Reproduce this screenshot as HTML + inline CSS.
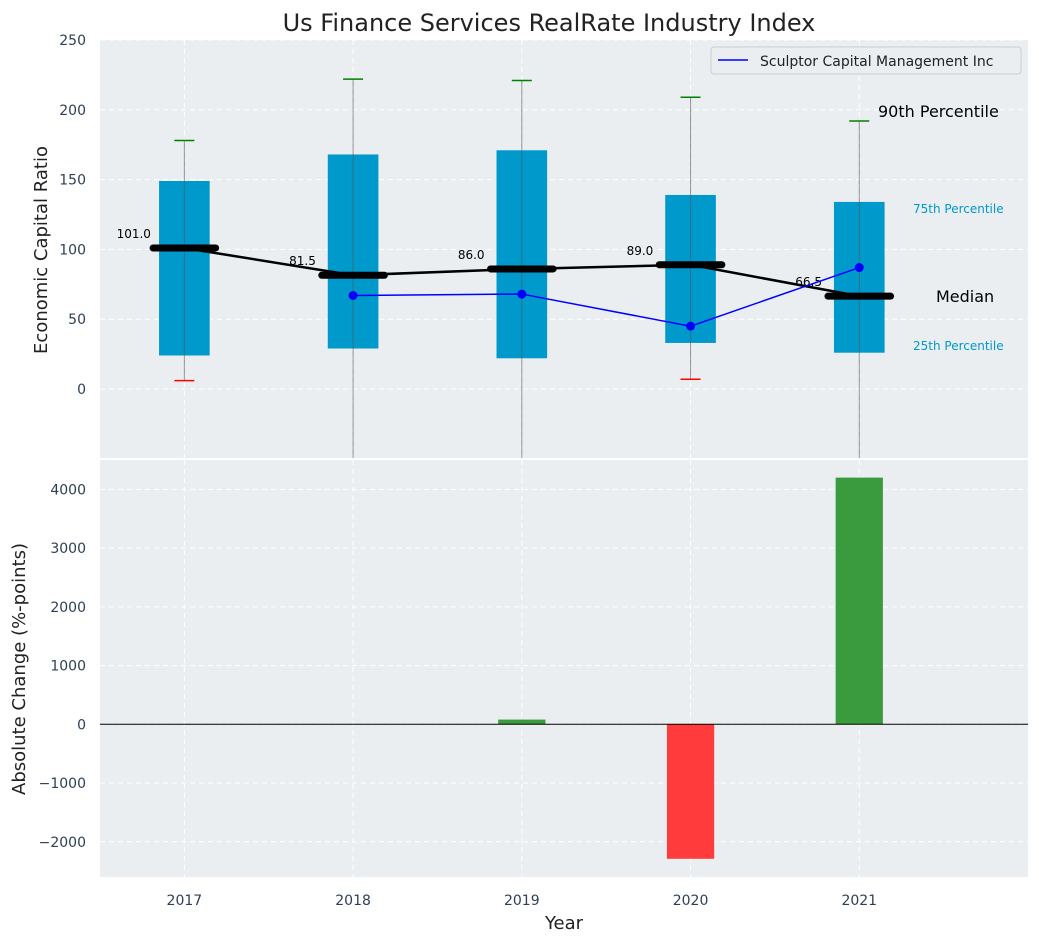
<!DOCTYPE html>
<html><head><meta charset="utf-8"><style>
body{margin:0;background:#fff;font-family:"Liberation Sans","DejaVu Sans",sans-serif}
svg text{font-family:"DejaVu Sans","Liberation Sans",sans-serif}
</style></head><body>
<svg id="c" width="1039" height="942" xmlns="http://www.w3.org/2000/svg"></svg>
<script>
const years=[2017,2018,2019,2020,2021];
const q1=[24,29,22,33,26];
const q3=[149,168,171,139,134];
const whiskTop=[178,222,221,209,192];
const whiskBot=[6,-80,-80,7,-80];
const medians=[101,81.5,86,89,66.5];
const companyYears=[2018,2019,2020,2021];
const companyVals=[67,68,45,87];
const changeYears=[2019,2020,2021];
const changeVals=[80,-2290,4200];
const topTicks=[0,50,100,150,200,250];
const botTicks=[-2000,-1000,0,1000,2000,3000,4000];
const botTickLabels=["\u22122000","\u22121000","0","1000","2000","3000","4000"];

const NS="http://www.w3.org/2000/svg";
const svg=document.getElementById('c');
function el(t,a,p){const e=document.createElementNS(NS,t);for(const k in a)e.setAttribute(k,a[k]);(p||svg).appendChild(e);return e;}
const L=100,R=1028;
const x=v=>L+(v-2016.5)/(2022-2016.5)*(R-L);
const yT=v=>40+(250-v)/300*(458.8-40);
const yB=v=>460+(4500-v)/7100*(877-460);

// backgrounds
let e=el('rect',{x:L,y:40,width:R-L,height:418,fill:'#eaeef0'});

e=el('rect',{x:L,y:460,width:R-L,height:417,fill:'#eaeef0'});


// title
e=el('text',{x:549,y:31,'text-anchor':'middle','font-size':24,fill:'#222'});e.textContent='Us Finance Services RealRate Industry Index';


// grids & ticks
topTicks.forEach(t=>{const yy=yT(t);
 let g=el('line',{x1:L,x2:R,y1:yy,y2:yy,stroke:'#fff','stroke-dasharray':'5,4','stroke-width':1});
 
 let tx=el('text',{x:86,y:yy+5,'text-anchor':'end','font-size':14,fill:'#2e3f55'});tx.textContent=t;
 });
botTicks.forEach((t,i)=>{const yy=yB(t);
 let g=el('line',{x1:L,x2:R,y1:yy,y2:yy,stroke:'#fff','stroke-dasharray':'5,4','stroke-width':1});
 
 let tx=el('text',{x:86,y:yy+5,'text-anchor':'end','font-size':14,fill:'#2e3f55'});tx.textContent=botTickLabels[i];
 });
years.forEach(yr=>{[[40,458],[460,877]].forEach(r=>{
 let g=el('line',{x1:x(yr),x2:x(yr),y1:r[0],y2:r[1],stroke:'#fff','stroke-dasharray':'5,4'});
 });
 let tx=el('text',{x:x(yr),y:905,'text-anchor':'middle','font-size':14,fill:'#2e3f55'});tx.textContent=yr;
 });

// axis titles
e=el('text',{x:47,y:250,'text-anchor':'middle','font-size':18,fill:'#222',transform:'rotate(-90 47 250)'});e.textContent='Economic Capital Ratio';

e=el('text',{x:25,y:669,'text-anchor':'middle','font-size':18,fill:'#222',transform:'rotate(-90 25 669)'});e.textContent='Absolute Change (%-points)';

e=el('text',{x:564,y:929,'text-anchor':'middle','font-size':18,fill:'#222'});e.textContent='Year';


// clip top
const defs=el('defs',{});const cp=el('clipPath',{id:'ct'},defs);el('rect',{x:L,y:40,width:R-L,height:418},cp);
const gT=el('g',{'clip-path':'url(#ct)'});
const bw=x(2017.15)-x(2017);
years.forEach((yr,i)=>{const cx=x(yr);
 let b=el('rect',{x:cx-bw,y:yT(q3[i]),width:2*bw,height:yT(q1[i])-yT(q3[i]),fill:'#0099cc'},gT);
 
 let w=el('line',{x1:cx,x2:cx,y1:yT(whiskTop[i]),y2:yT(whiskBot[i]),stroke:'#555','stroke-opacity':0.6,'stroke-width':1},gT);
 
 let c=el('line',{x1:cx-10,x2:cx+10,y1:yT(whiskTop[i]),y2:yT(whiskTop[i]),stroke:'green','stroke-width':1.5},gT);
 
 let c2=el('line',{x1:cx-10,x2:cx+10,y1:yT(whiskBot[i]),y2:yT(whiskBot[i]),stroke:'red','stroke-width':1.5},gT);
 
});
let pts=years.map((yr,i)=>x(yr)+','+yT(medians[i])).join(' ');
e=el('polyline',{points:pts,fill:'none',stroke:'#000','stroke-width':2.5},gT);

years.forEach((yr,i)=>{const cx=x(yr),yy=yT(medians[i]);
 let m=el('line',{x1:cx-bw-6,x2:cx+bw+6,y1:yy,y2:yy,stroke:'#000','stroke-width':7,'stroke-linecap':'round'},gT);
 
 let t=el('text',{x:x(yr-0.3),y:yy-10,'text-anchor':'middle','font-size':12,fill:'#000'},gT);t.textContent=medians[i].toFixed(1);
 });
pts=companyYears.map((yr,i)=>x(yr)+','+yT(companyVals[i])).join(' ');
e=el('polyline',{points:pts,fill:'none',stroke:'blue','stroke-width':1.5},gT);

companyYears.forEach((yr,i)=>{let p=el('circle',{cx:x(yr),cy:yT(companyVals[i]),r:4.5,fill:'blue'},gT);
 });

// annotations
[['90th Percentile',878,117,16,'#000'],['75th Percentile',913,213,12,'#0099cc'],['Median',936,302,16,'#000'],['25th Percentile',913,350,12,'#0099cc']].forEach(a=>{
 let t=el('text',{x:a[1],y:a[2],'font-size':a[3],fill:a[4]});t.textContent=a[0];
 });

// legend
const lg=el('g',{});
el('rect',{x:711,y:47,width:310,height:27,rx:3,fill:'#eaeef0',stroke:'#ccc'},lg);
el('line',{x1:718,x2:748,y1:60,y2:60,stroke:'blue','stroke-width':1.5},lg);
e=el('text',{x:760,y:66,'font-size':14,fill:'#222'},lg);e.textContent='Sculptor Capital Management Inc';

// bottom bars
const bw2=x(2017.14)-x(2017);
changeYears.forEach((yr,i)=>{const v=changeVals[i];
 let b=el('rect',{x:x(yr)-bw2,y:Math.min(yB(v),yB(0)),width:2*bw2,height:Math.abs(yB(v)-yB(0)),fill:v>=0?'#3a9b3e':'#ff3b3b'});
 });
e=el('line',{x1:L,x2:R,y1:yB(0),y2:yB(0),stroke:'#000','stroke-width':1});

</script>
</body></html>
